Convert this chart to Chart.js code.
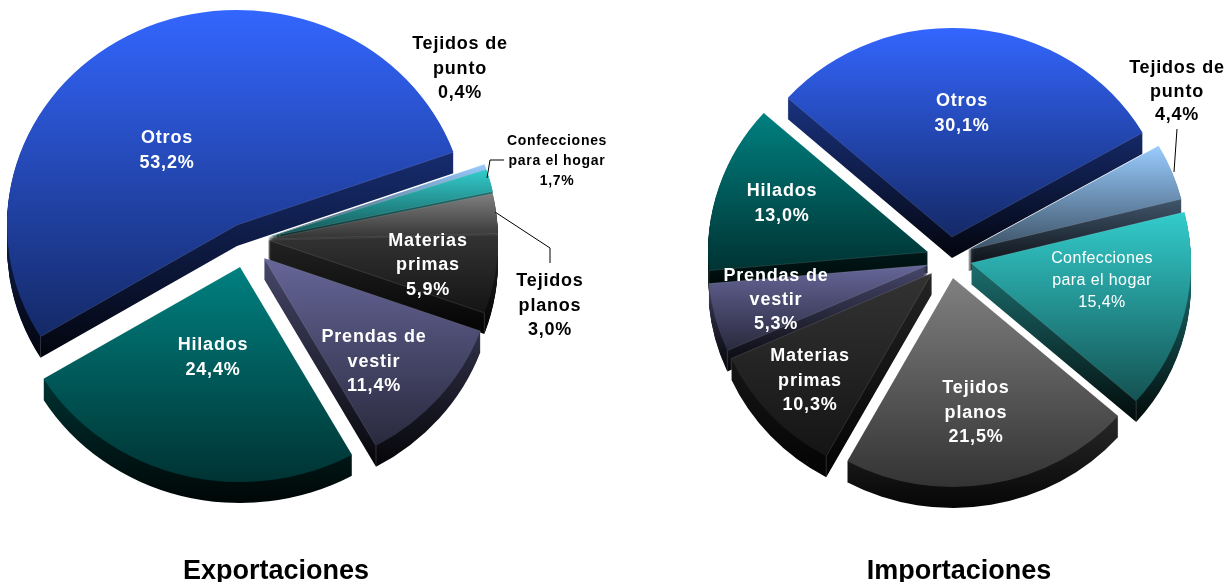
<!DOCTYPE html>
<html><head><meta charset="utf-8">
<script src="https://cdn.jsdelivr.net/npm/chart.js@4"></script>
<style>
html,body{margin:0;padding:0;background:#fff;width:1228px;height:582px;overflow:hidden}
canvas{position:absolute;top:0}
</style></head><body>
<canvas id="exp" width="614" height="582" style="left:0"></canvas>
<canvas id="imp" width="614" height="582" style="left:614px"></canvas>
<script>
const categories = ['Otros','Tejidos de punto','Confecciones para el hogar','Tejidos planos','Materias primas','Prendas de vestir','Hilados'];
const exportValues = [53.2,0.4,1.7,3.0,5.9,11.4,24.4];
const importValues = [30.1,4.4,15.4,21.5,10.3,5.3,13.0];
const baseColors = ['#3366FF','#99CCFF','#33CCCC','#808080','#333333','#666699','#008080'];
const chartTitles = ['Exportaciones','Importaciones'];
const labelLines = [['Otros'],['Tejidos de','punto'],['Confecciones','para el hogar'],['Tejidos','planos'],['Materias','primas'],['Prendas de','vestir'],['Hilados']];

// Layout only (canvas pixels)
const F = 'Liberation Sans, Arial, sans-serif';
const layoutExp = {
  rotation:238.7, r:230, k:0.935, depth:21, titleX:276,
  tips:[[237,225],[268,237],[268,237],[268,239],[268,240],[264,258],[240,267]],
  labels:[
    {x:167,y:[143,168],c:'#fff'},
    {x:460,y:[49,74,98],c:'#000'},
    {x:557,y:[145,165,185],c:'#000',font:'bold 14px '+F,ls:'0.7px'},
    {x:550,y:[286,311,335],c:'#000'},
    {x:428,y:[246,270,295],c:'#fff'},
    {x:374,y:[342,367,391],c:'#fff'},
    {x:213,y:[350,375],c:'#fff'}],
  leaders:[[[504,160],[490,160],[487,178]],[[495,212],[550,248],[550,263]]]
};
const layoutImp = {
  rotation:311.7, r:220, k:0.95, depth:21, titleX:345,
  tips:[[338,237],[354,250],[357,263],[339,278],[318,273],[314,265],[314,252]],
  labels:[
    {x:348,y:[106,131],c:'#fff'},
    {x:563,y:[73,97,120],c:'#000'},
    {x:488,y:[263,285,307],c:'#fff',font:'16px '+F,ls:'0.4px'},
    {x:362,y:[393,418,442],c:'#fff'},
    {x:196,y:[361,386,410],c:'#fff'},
    {x:162,y:[281,305,329],c:'#fff'},
    {x:168,y:[196,221],c:'#fff'}],
  leaders:[[[563,129],[560,172]]]
};

function shade(hex,f){
  const n=parseInt(hex.slice(1),16);
  return 'rgb('+[(n>>16)&255,(n>>8)&255,n&255].map(v=>Math.round(v*f)).join(',')+')';
}
const pieLook = {
  id:'pieLook',
  beforeDatasetsDraw(chart,args,o){
    const L=o.layout, ctx=chart.ctx, k=L.k, meta=chart.getDatasetMeta(0);
    ctx.save();
    ctx.scale(1,k);
    const arcs=meta.data.map((arc,i)=>{
      const [tx,ty]=L.tips[i];
      arc.x=tx; arc.y=ty/k; arc.outerRadius=L.r; arc.innerRadius=0;
      let y0=ty,y1=ty;
      for(let s=0;s<=60;s++){
        const a=arc.startAngle+(arc.endAngle-arc.startAngle)*s/60;
        const y=ty+L.r*k*Math.sin(a);
        y0=Math.min(y0,y);y1=Math.max(y1,y);
      }
      const c=baseColors[i];
      const g=ctx.createLinearGradient(0,y0/k,0,y1/k);
      g.addColorStop(0,c);g.addColorStop(1,shade(c,0.4));
      arc.options=Object.assign({},arc.options,{backgroundColor:g,borderWidth:0});
      const w=ctx.createLinearGradient(0,y0/k,0,(y1+L.depth)/k);
      w.addColorStop(0,shade(c,0.7));w.addColorStop(1,shade(c,0.05));
      return {arc,w,mid:ty+L.r*k*Math.sin((arc.startAngle+arc.endAngle)/2)};
    }).sort((a,b)=>a.mid-b.mid);
    arcs.forEach(({arc,w})=>{
      ctx.fillStyle=w;
      for(let d=L.depth;d>=1;d--){
        ctx.beginPath();
        ctx.moveTo(arc.x,arc.y+d/k);
        ctx.arc(arc.x,arc.y+d/k,L.r,arc.startAngle,arc.endAngle);
        ctx.closePath();ctx.fill();
      }
      ctx.strokeStyle='rgba(255,255,255,0.25)';ctx.lineWidth=0.7;
      [arc.startAngle,arc.endAngle].forEach(a=>{
        const ex=arc.x+L.r*Math.cos(a), ey=arc.y+L.r*Math.sin(a);
        ctx.beginPath();ctx.moveTo(ex,ey);ctx.lineTo(ex,ey+L.depth/k);ctx.stroke();
      });
    });
  },
  afterDatasetsDraw(chart,args,o){
    const L=o.layout, ctx=chart.ctx, meta=chart.getDatasetMeta(0);
    ctx.strokeStyle='rgba(255,255,255,0.2)';ctx.lineWidth=0.6;
    meta.data.forEach(arc=>{
      [arc.startAngle,arc.endAngle].forEach(a=>{
        ctx.beginPath();ctx.moveTo(arc.x,arc.y);
        ctx.lineTo(arc.x+L.r*Math.cos(a),arc.y+L.r*Math.sin(a));ctx.stroke();
      });
    });
    ctx.restore();
  },
  afterDraw(chart,args,o){
    const L=o.layout, ctx=chart.ctx, vals=chart.data.datasets[0].data;
    ctx.save();
    ctx.strokeStyle='#000';ctx.lineWidth=1;
    L.leaders.forEach(p=>{
      ctx.beginPath();p.forEach((q,i)=>i?ctx.lineTo(q[0],q[1]):ctx.moveTo(q[0],q[1]));ctx.stroke();
    });
    ctx.textAlign='center';ctx.textBaseline='alphabetic';
    L.labels.forEach((l,i)=>{
      ctx.font=l.font||('bold 18px '+F);
      ctx.letterSpacing=l.ls||'0.8px';
      ctx.fillStyle=l.c;
      const lines=labelLines[i].concat([vals[i].toFixed(1).replace('.',',')+'%']);
      lines.forEach((t,j)=>ctx.fillText(t,l.x,l.y[j]));
    });
    ctx.letterSpacing='0px';
    ctx.font='bold 27px '+F;ctx.fillStyle='#000';
    ctx.fillText(o.title,L.titleX,579);
    ctx.restore();
  }
};
function makePie(id,values,layout,title){
  return new Chart(document.getElementById(id),{
    type:'pie',
    data:{labels:categories,datasets:[{data:values,backgroundColor:baseColors,borderWidth:0,clip:false}]},
    options:{
      responsive:false,animation:false,rotation:layout.rotation,radius:layout.r,
      plugins:{legend:{display:false},tooltip:{enabled:false},pieLook:{layout,title}}
    },
    plugins:[pieLook]
  });
}
makePie('exp',exportValues,layoutExp,chartTitles[0]);
makePie('imp',importValues,layoutImp,chartTitles[1]);
</script>
</body></html>
